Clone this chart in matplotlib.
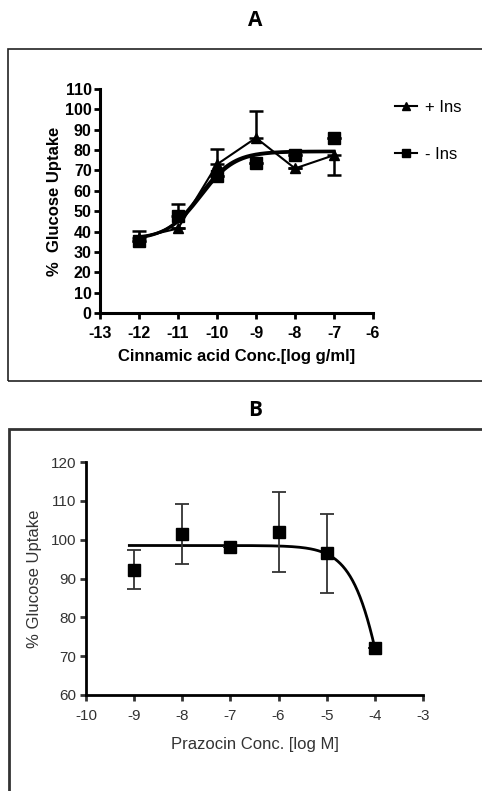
import matplotlib.pyplot as plt
import numpy as np
from matplotlib.patches import Rectangle
from matplotlib.lines import Line2D

W, H = 482, 791

# Panel A: cinnamic acid
conc_a = [-12, -11, -10, -9, -8, -7]
plus_ins = [37, 41.5, 73, 86, 71, 77.5]
plus_ins_err = [3.5, 0, 7.5, 13, 0, 9.5]
minus_ins = [35.5, 47.5, 67.5, 73.5, 77.5, 86]
minus_ins_err = [0, 6, 0, 0, 0, 0]
# fitted sigmoid parameters (bottom, top, logEC50)
fit_minus = (35.8, 79.5, -10.45)
fit_plus = (36.3, 79.2, -10.4)

# Panel B: prazocin
conc_b = [-9, -8, -7, -6, -5, -4]
uptake_b = [92.3, 101.5, 98, 102, 96.5, 72]
uptake_b_err = [5, 7.8, 0, 10.3, 10.2, 0]
fit_b = (98.5, 0, -3.64, 1.21)  # top, bottom, logIC50, hill

plt.rcParams['font.family'] = ['Liberation Sans', 'DejaVu Sans']
plt.rcParams['axes.unicode_minus'] = False
fig = plt.figure(figsize=(W / 100, H / 100), dpi=100)


def fax(l, t, r, b):
    return fig.add_axes([l / W, 1 - b / H, (r - l) / W, (b - t) / H])


# frames around panels
fig.patches.append(Rectangle((8 / W, 1 - 381 / H), 480 / W, 332 / H, transform=fig.transFigure,
                             fill=False, edgecolor='#222222', linewidth=1.2))
fig.patches.append(Rectangle((8.5 / W, -0.05), 480 / W, 1 - 429 / H + 0.05, transform=fig.transFigure,
                             fill=False, edgecolor='#333333', linewidth=2))

fig.text(255 / W, 1 - 21 / H, 'A', ha='center', va='center', fontsize=15, fontweight='bold', family='Open Sans')
fig.text(255 / W, 1 - 410 / H, 'B', ha='center', va='center', fontsize=15, fontweight='bold', family='Open Sans')

# ---- Panel A
ax = fax(100, 89, 373, 313)
xs = np.linspace(-12, -7, 200)
for bot, top, ec in (fit_minus, fit_plus):
    ax.plot(xs, bot + (top - bot) / (1 + 10 ** (ec - xs)), color='black', lw=2.2)
ax.plot(conc_a, plus_ins, color='black', lw=1.5, marker='^', ms=7, zorder=4)
ax.errorbar(conc_a, plus_ins, yerr=[np.where(np.array(conc_a) == -7, plus_ins_err, 0),
                                    np.where(np.array(conc_a) == -7, 0, plus_ins_err)],
            fmt='none', ecolor='black', elinewidth=1.8, capsize=5, capthick=1.8)
ax.errorbar(conc_a, minus_ins, yerr=[np.zeros(6), minus_ins_err], fmt='s', color='black',
            ms=8, ecolor='black', elinewidth=1.8, capsize=5, capthick=1.8, zorder=5)
ax.set_xlim(-13, -6)
ax.set_ylim(0, 110)
ax.set_xticks(range(-13, -5))
ax.set_yticks(range(0, 111, 10))
for s in ('top', 'right'):
    ax.spines[s].set_visible(False)
for s in ('left', 'bottom'):
    ax.spines[s].set_linewidth(2.2)
ax.tick_params(width=2, length=4, labelsize=11.5, pad=2)
ax.tick_params(axis='x', pad=5)
for lab in ax.get_xticklabels() + ax.get_yticklabels():
    lab.set_fontweight('bold')
ax.set_xlabel('Cinnamic acid Conc.[log g/ml]', fontsize=12, fontweight='bold', labelpad=6)
ax.set_ylabel('%  Glucose Uptake', fontsize=12, fontweight='bold', labelpad=2)
h1 = Line2D([], [], color='black', lw=1.5, marker='^', ms=6)
h2 = Line2D([], [], color='black', lw=1.5, marker='s', ms=6)
fig.legend([h1, h2], ['+ Ins', '- Ins'], loc='upper left', bbox_to_anchor=(380 / W, 1 - 85 / H),
           frameon=False, fontsize=12, handlelength=1.3, labelspacing=1.9, handletextpad=0.5)

# ---- Panel B
gray = '#333333'
bx = fax(86, 462, 423, 695)
xb = np.linspace(-9.1, -4, 200)
top, bot, ic, hill = fit_b
bx.plot(xb, bot + (top - bot) / (1 + 10 ** (hill * (xb - ic))), color='black', lw=2)
bx.errorbar(conc_b, uptake_b, yerr=uptake_b_err, fmt='s', color='black', ms=8,
            ecolor=gray, elinewidth=1.3, capsize=5, capthick=1.3, zorder=5)
bx.set_xlim(-10, -3)
bx.set_ylim(60, 120)
bx.set_xticks(range(-10, -2))
bx.set_yticks(range(60, 121, 10))
for s in ('top', 'right'):
    bx.spines[s].set_visible(False)
for s in ('left', 'bottom'):
    bx.spines[s].set_linewidth(2)
bx.tick_params(width=2, length=4, labelsize=11, pad=3, colors=gray)
bx.tick_params(axis='x', pad=6)
bx.set_xlabel('Prazocin Conc. [log M]', fontsize=12, color=gray, labelpad=10)
bx.set_ylabel('% Glucose Uptake', fontsize=12, color=gray, labelpad=6)

fig.savefig('out.png', dpi=100)
